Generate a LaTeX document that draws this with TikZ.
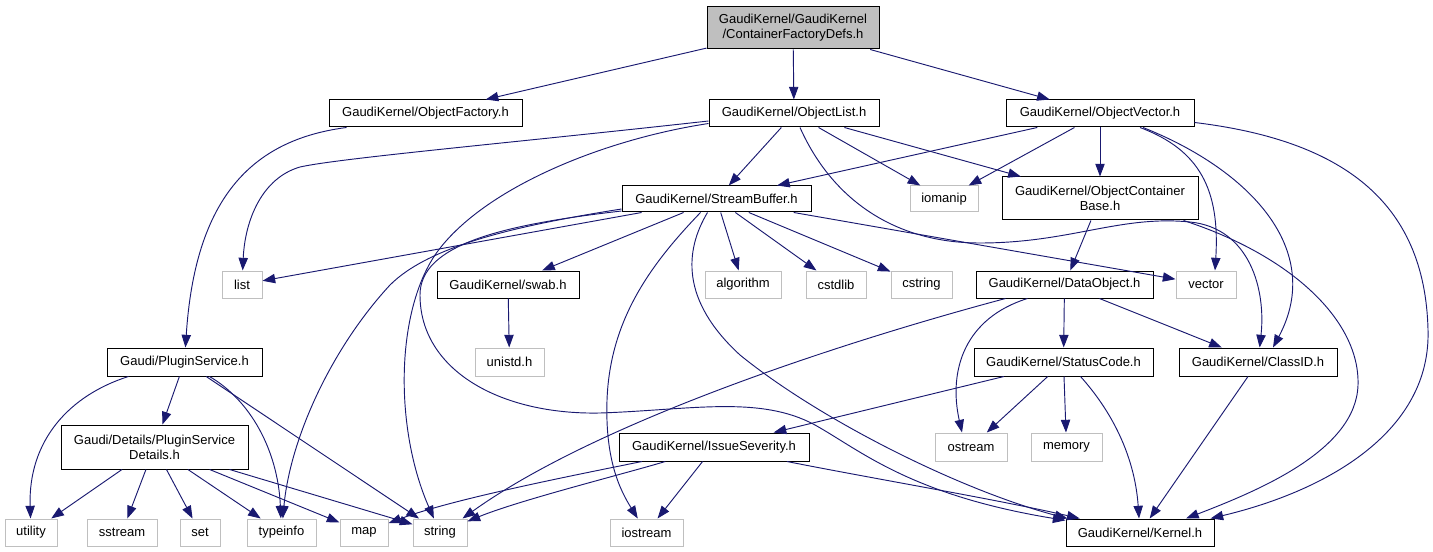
\documentclass[tikz,border=0pt]{standalone}
\usepackage{fontspec}
\setmainfont{Liberation Sans}
\usetikzlibrary{arrows.meta,calc}
\definecolor{edgeblue}{HTML}{191970}
\definecolor{sysgray}{HTML}{BFBFBF}
\definecolor{rootgray}{HTML}{BFBFBF}
\tikzset{
 nbase/.style={rectangle, inner sep=0pt, align=center, font=\fontsize{9.75pt}{11.25pt}\selectfont, line width=0.75pt, fill=white},
 doc/.style={nbase, draw=black},
 sys/.style={nbase, draw=sysgray},
 sz/.style 2 args={minimum width=#1*0.75pt, minimum height=#2*0.75pt},
 conn/.style={draw=edgeblue, line width=0.7pt, -{Triangle[length=9.5pt,width=7pt]}}
}
\begin{document}
\begin{tikzpicture}[x=0.75pt,y=-0.75pt]
\useasboundingbox (0,0) rectangle (1433,552);
% nodes
\node[doc, sz={172}{42}, fill=rootgray] (root) at (793,28) {GaudiKernel/GaudiKernel\\/ContainerFactoryDefs.h};
\node[doc, sz={193}{27}] (ofac) at (425.5,113.5) {GaudiKernel/ObjectFactory.h};
\node[doc, sz={170}{27}] (olist) at (794,113.5) {GaudiKernel/ObjectList.h};
\node[doc, sz={188}{27}] (ovec) at (1100,113.5) {GaudiKernel/ObjectVector.h};
\node[doc, sz={189}{26}] (sbuf) at (716.5,199) {GaudiKernel/StreamBuffer.h};
\node[sys, sz={68}{26}] (iomanip) at (944,199) {iomanip};
\node[doc, sz={196}{43}] (ocb) at (1100,198.5) {GaudiKernel/ObjectContainer\\Base.h};
\node[sys, sz={40}{27}] (list) at (242,284.5) {list};
\node[doc, sz={142}{27}] (swab) at (508,284.5) {GaudiKernel/swab.h};
\node[sys, sz={76}{27}] (algorithm) at (743,284.5) {algorithm};
\node[sys, sz={60}{27}] (cstdlib) at (836,284.5) {cstdlib};
\node[sys, sz={61}{27}] (cstring) at (921.5,284.5) {cstring};
\node[doc, sz={177}{27}] (dobj) at (1064.5,284.5) {GaudiKernel/DataObject.h};
\node[sys, sz={60}{27}] (vector) at (1206,284.5) {vector};
\node[sys, sz={69}{28}] (unistd) at (509.5,362) {unistd.h};
\node[doc, sz={155}{28}] (psvc) at (184.5,362) {Gaudi/PluginService.h};
\node[doc, sz={179}{28}] (scode) at (1063.5,362) {GaudiKernel/StatusCode.h};
\node[doc, sz={158}{28}] (classid) at (1258,362) {GaudiKernel/ClassID.h};
\node[doc, sz={187}{44}] (psd) at (154.5,447) {Gaudi/Details/PluginService\\Details.h};
\node[doc, sz={190}{28}] (isev) at (714,447) {GaudiKernel/IssueSeverity.h};
\node[sys, sz={72}{28}] (ostream) at (971,447) {ostream};
\node[sys, sz={71}{28}] (memory) at (1066.5,447) {memory};
\node[sys, sz={52}{27}] (utility) at (31,532.5) {utility};
\node[sys, sz={70}{27}] (sstream) at (122,532.5) {sstream};
\node[sys, sz={40}{27}] (set) at (200,532.5) {set};
\node[sys, sz={69}{27}] (typeinfo) at (281.5,532.5) {typeinfo};
\node[sys, sz={48}{27}] (map) at (364,532.5) {map};
\node[sys, sz={54}{27}] (string) at (440,532.5) {string};
\node[sys, sz={73}{27}] (iostream) at (646.5,532.5) {iostream};
\node[doc, sz={148}{27}] (kernel) at (1140,532.5) {GaudiKernel/Kernel.h};
% root
\draw[conn] (root) -- (ofac);
\draw[conn] (root) -- (olist);
\draw[conn] (root) -- (ovec);
% ObjectFactory
\draw[conn] ($(ofac.south west)+(18,0)$) .. controls (250,140) and (195,200) .. (psvc);
% ObjectList
\draw[conn] ($(olist.west)+(0,7.5)$) .. controls (520,142) and (340,158) .. (300,167) .. controls (262,178) and (245,220) .. (list);
\draw[conn] ($(olist.west)+(0,10)$) .. controls (600,140) and (480,190) .. (435,255) .. controls (395,315) and (395,430) .. (string);
\draw[conn] (olist) -- (sbuf);
\draw[conn] (olist) -- (iomanip);
\draw[conn] (olist) -- (ocb);
\draw[conn] ($(olist.south)+(6,0)$) .. controls (830,195) and (890,243) .. (980,243) .. controls (1070,243) and (1120,215) .. (1190,222) .. controls (1250,228) and (1266,290) .. (classid);
% ObjectVector
\draw[conn] (ovec) -- (sbuf);
\draw[conn] (ovec) -- (iomanip);
\draw[conn] (ovec) -- (ocb);
\draw[conn] ($(ovec.south)+(40,0)$) .. controls (1200,150) and (1220,190) .. ($(vector.north)+(9,0)$);
\draw[conn] ($(ovec.south)+(43,0)$) .. controls (1250,170) and (1325,250) .. ($(classid.north)+(15,0)$);
\draw[conn] ($(ovec.east)+(0,9)$) .. controls (1340,140) and (1425,200) .. (1428,330) .. controls (1431,430) and (1330,490) .. ($(kernel.north east)+(-4,0)$);
% ObjectContainerBase
\draw[conn] (ocb) -- (dobj);
\draw[conn] ($(ocb.south east)+(-15,0)$) .. controls (1290,255) and (1360,320) .. (1358,385) .. controls (1356,450) and (1260,490) .. ($(kernel.north)+(46,0)$);
% DataObject
\draw[conn] (dobj) -- (scode);
\draw[conn] (dobj) -- (classid);
\draw[conn] ($(dobj.south)+(-37,0)$) .. controls (965,318) and (948,370) .. ($(ostream.north)+(-9,0)$);
\draw[conn] ($(dobj.south west)+(30,0)$) .. controls (850,340) and (600,420) .. ($(string.north east)+(-5,0)$);
% StatusCode
\draw[conn] (scode) -- (isev);
\draw[conn] (scode) -- (ostream);
\draw[conn] (scode) -- (memory);
\draw[conn] ($(scode.south)+(17,0)$) .. controls (1115,415) and (1135,460) .. (kernel);
% ClassID
\draw[conn] (classid) -- (kernel);
% IssueSeverity
\draw[conn] (isev) .. controls (560,478) and (450,500) .. (map);
\draw[conn] (isev) .. controls (620,475) and (520,500) .. (string);
\draw[conn] (isev) -- (iostream);
\draw[conn] (isev) .. controls (870,478) and (1000,500) .. (kernel);
% StreamBuffer
\draw[conn] (sbuf) -- (list);
\draw[conn] ($(sbuf.west)+(0,10)$) .. controls (520,225) and (430,245) .. (390,285) .. controls (330,350) and (290,440) .. (typeinfo);
\draw[conn] ($(sbuf.west)+(0,12)$) .. controls (500,225) and (420,245) .. (420,295) .. controls (420,370) and (500,415) .. (600,413) .. controls (690,410) and (760,395) .. (815,425) .. controls (860,450) and (910,495) .. (kernel);
\draw[conn] (sbuf) -- (swab);
\draw[conn] ($(sbuf.south)+(-16,0)$) .. controls (650,265) and (610,320) .. (607,400) .. controls (605,460) and (620,490) .. (iostream);
\draw[conn] ($(sbuf.south)+(-9,0)$) .. controls (685,250) and (680,300) .. (740,355) .. controls (820,420) and (960,490) .. ($(kernel.north west)+(2,0)$);
\draw[conn] (sbuf) -- (algorithm);
\draw[conn] (sbuf) -- (cstdlib);
\draw[conn] (sbuf) -- (cstring);
\draw[conn] (sbuf) -- (vector);
% swab
\draw[conn] (swab) -- (unistd);
% PluginService
\draw[conn] ($(psvc.south west)+(22,0)$) .. controls (70,395) and (28,440) .. (utility);
\draw[conn] (psvc) -- (psd);
\draw[conn] (psvc) .. controls (250,400) and (278,450) .. (typeinfo);
\draw[conn] (psvc) -- (string);
% PluginServiceDetails
\draw[conn] (psd) -- (utility);
\draw[conn] (psd) -- (sstream);
\draw[conn] (psd) -- (set);
\draw[conn] (psd) -- (typeinfo);
\draw[conn] (psd) -- (map);
\draw[conn] (psd) -- (string);
\end{tikzpicture}
\end{document}
